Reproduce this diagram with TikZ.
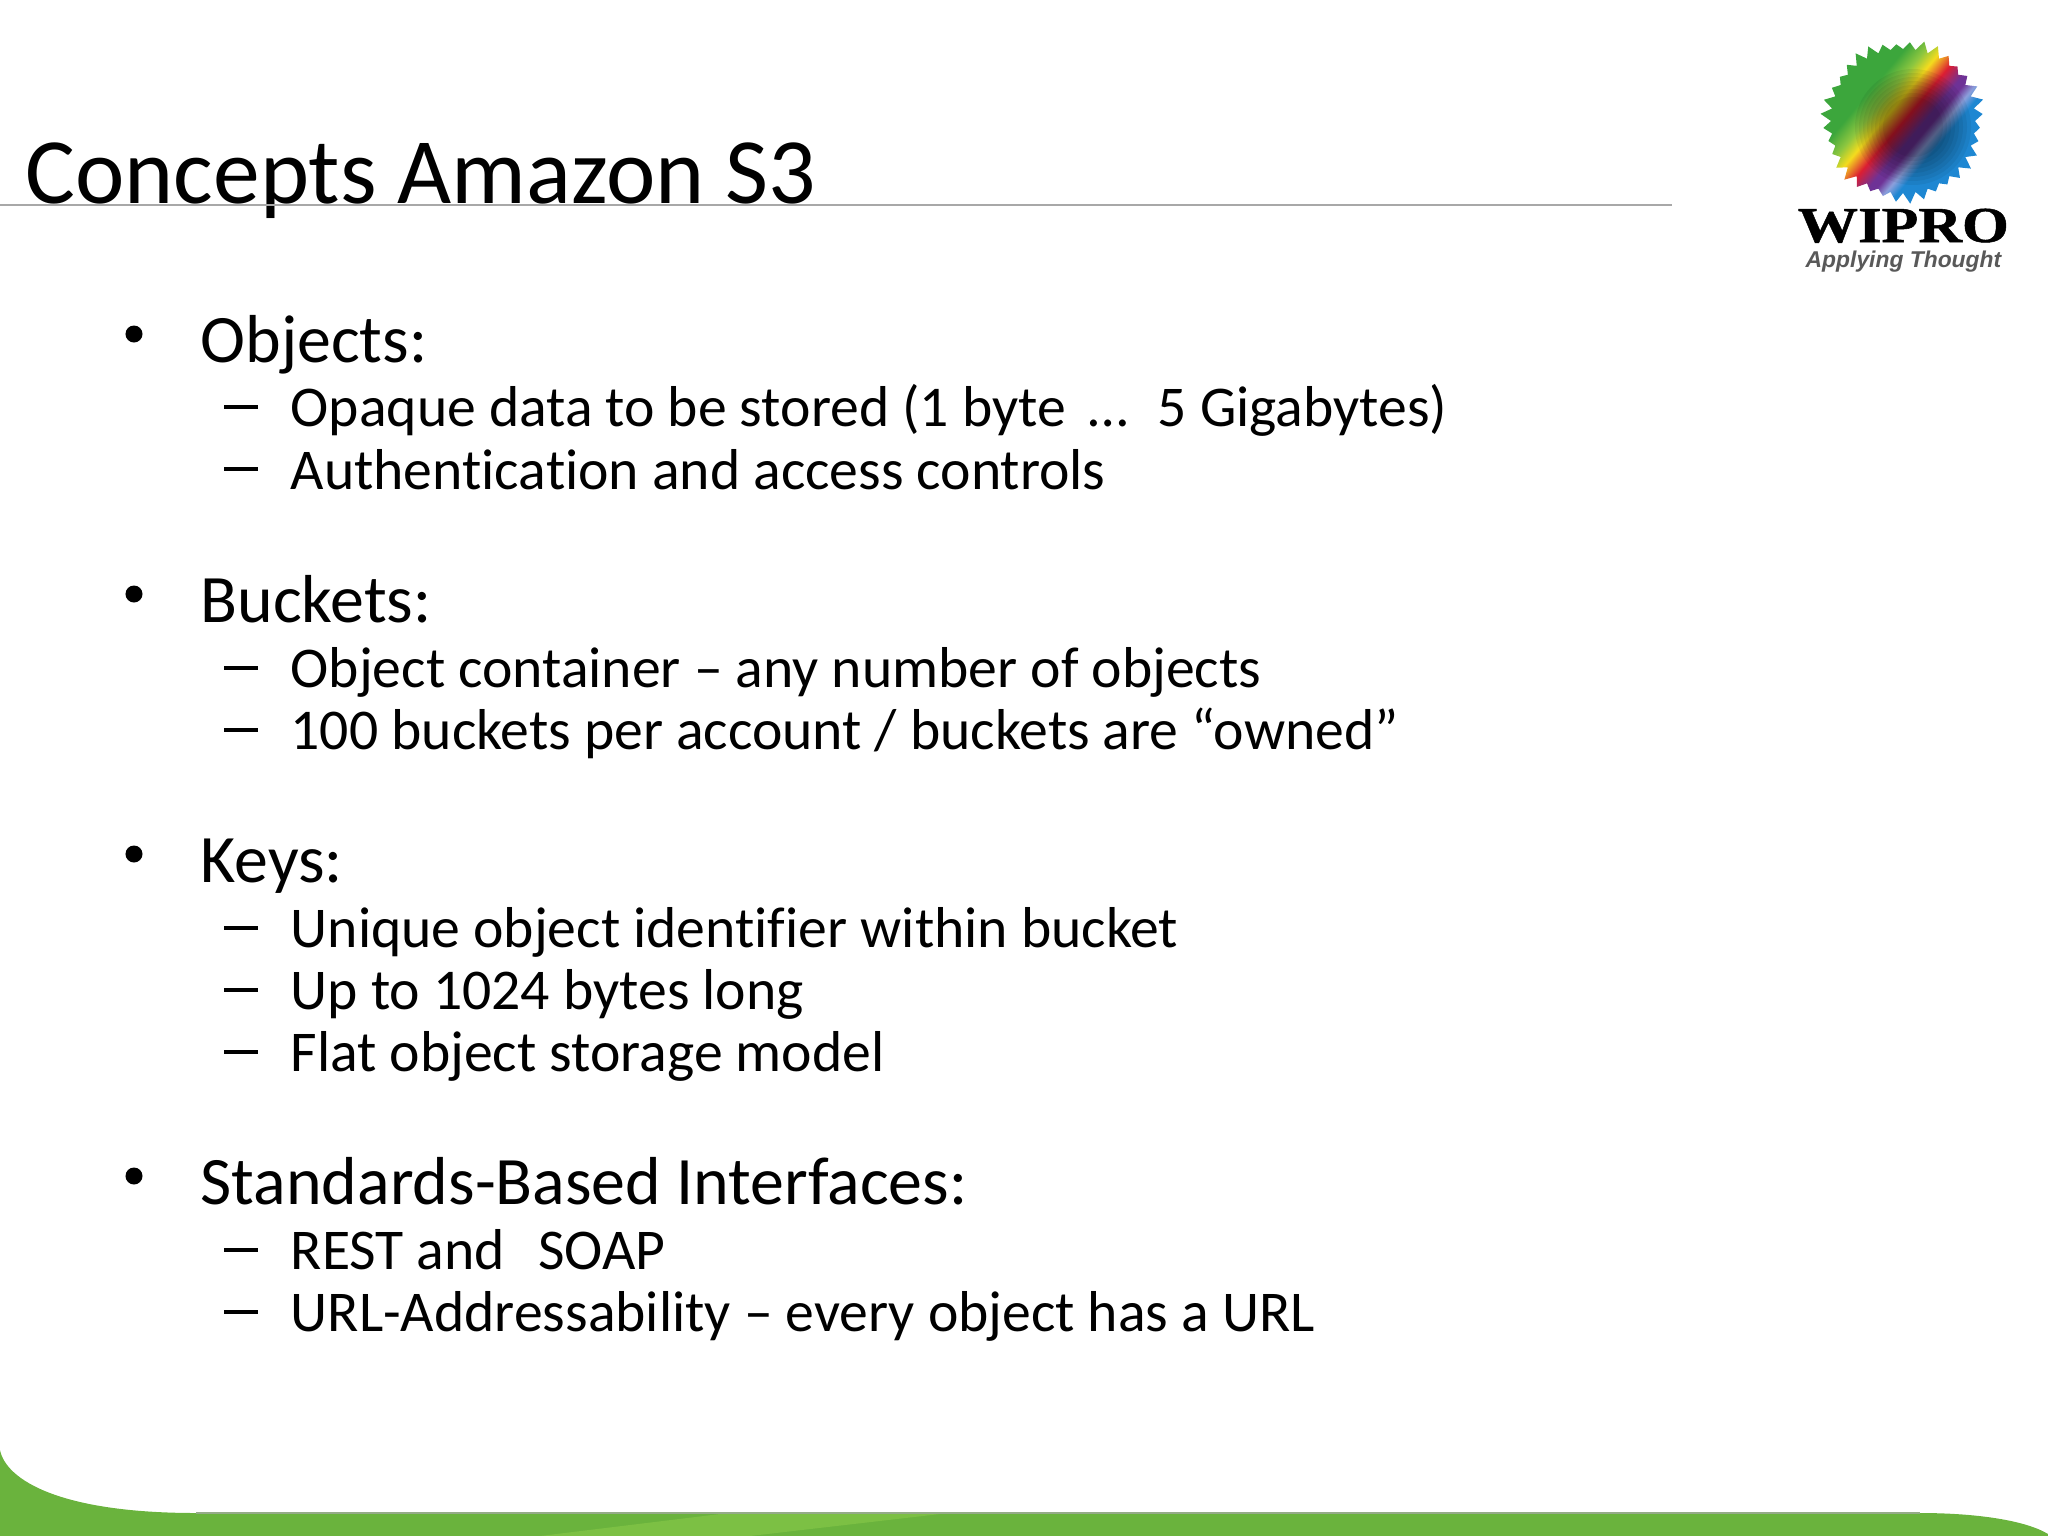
\documentclass[tikz,border=0pt]{standalone}
\usepackage{fontspec}
\setmainfont[Ligatures=NoCommon]{Carlito}
\newfontfamily\logofont[FakeStretch=1.2,BoldFeatures={FakeBold=1}]{Liberation Serif}
\newfontfamily\tagfont{Liberation Sans}
\definecolor{leafgreen}{HTML}{6AB33D}
\definecolor{leaflight}{HTML}{7CC044}
\definecolor{rulegray}{HTML}{A8A8A8}
\definecolor{sungreen}{HTML}{3CA63C}
\definecolor{sunlime}{HTML}{8CC63F}
\definecolor{sunyellow}{HTML}{F4DC1E}
\definecolor{sunred}{HTML}{DC1E32}
\definecolor{sunviolet}{HTML}{6E3296}
\definecolor{sunpale}{HTML}{8CA0DC}
\definecolor{sunblue}{HTML}{1E87D2}
\pgfdeclarehorizontalshading{sunbands}{100bp}{color(0bp)=(sungreen);color(36bp)=(sungreen);color(41bp)=(sunlime);color(45bp)=(sunyellow);color(50bp)=(sunred);color(55bp)=(sunviolet);color(57bp)=(sunviolet);color(60bp)=(sunpale);color(63bp)=(sunblue);color(100bp)=(sunblue)}
\tikzset{
  titletext/.style={anchor=base west,inner sep=0pt,font=\fontsize{26.6}{26.6}\selectfont},
  headtext/.style={anchor=base west,inner sep=0pt,font=\fontsize{19.3}{19.3}\selectfont},
  subtext/.style={anchor=base west,inner sep=0pt,font=\fontsize{16.4}{16.4}\selectfont},
  dashmark/.style={rectangle,fill=black,inner sep=0pt,minimum width=0.33cm,minimum height=0.04cm},
  dotmark/.style={circle,fill=black,inner sep=0pt,minimum size=0.17cm},
}
\begin{document}
\begin{tikzpicture}[x=0.01cm,y=0.01cm]
\useasboundingbox (0,0) rectangle (2048,-1536);
% green band
\fill [leafgreen] (0,-1450) .. controls (6,-1480) and (60,-1513) .. (196,-1513) -- (1920,-1513) .. controls (1975,-1513) and (2025,-1520) .. (2048,-1534) -- (2048,-1536) -- (0,-1536) -- cycle;
\fill [leaflight] (540,-1536) -- (720,-1514) -- (940,-1514) -- (750,-1536) -- cycle;
\draw [rulegray!70!leafgreen,line width=0.6pt] (196,-1513) -- (1920,-1513);
% title
\node [titletext] (title) at (25,-203) {Concepts Amazon S3};
\coordinate (ruleL) at (0,-205);
\coordinate (ruleR) at (1672,-205);
\draw [rulegray,line width=0.6pt] (ruleL) -- (ruleR);
% objects
\node [dotmark] (b1) at (134,-334) {};
\node [headtext] (h1) at (200,-362) {Objects:};
\node [dashmark] (d11) at (241,-407) {};
\node [subtext] (s11) at (290,-426) {Opaque data to be stored (1 byte\hspace{2.6pt} …\hspace{4.8pt} 5 Gigabytes)};
\node [dashmark] (d12) at (241,-469) {};
\node [subtext] (s12) at (290,-489) {Authentication and access controls};
% buckets
\node [dotmark] (b2) at (134,-594) {};
\node [headtext] (h2) at (200,-622) {Buckets:};
\node [dashmark] (d21) at (241,-668) {};
\node [subtext] (s21) at (290,-687) {Object container – any number of objects};
\node [dashmark] (d22) at (241,-730) {};
\node [subtext] (s22) at (290,-749) {100 buckets per account / buckets are “owned”};
% keys
\node [dotmark] (b3) at (134,-854) {};
\node [headtext] (h3) at (200,-882) {Keys:};
\node [dashmark] (d31) at (241,-928) {};
\node [subtext] (s31) at (290,-947) {Unique object identifier within bucket};
\node [dashmark] (d32) at (241,-990) {};
\node [subtext] (s32) at (290,-1009) {Up to 1024 bytes long};
\node [dashmark] (d33) at (241,-1052) {};
\node [subtext] (s33) at (290,-1071) {Flat object storage model};
% interfaces
\node [dotmark] (b4) at (134,-1176) {};
\node [headtext] (h4) at (200,-1204) {Standards-Based Interfaces:};
\node [dashmark] (d41) at (241,-1250) {};
\node [subtext] (s41) at (290,-1269) {REST and\ \ \hspace{2pt}SOAP};
\node [dashmark] (d42) at (241,-1312) {};
\node [subtext] (s42) at (290,-1331) {URL-Addressability – every object has a URL};
% logo
\begin{scope}[shift={(1903,-121)}]
\shade [shading=sunbands,shading angle=-40] (0:72) \foreach \a [evaluate=\a as \r using {80+3*sin(7*\a)}] in {0,10,...,350} { -- (\a:72) -- (\a+5:\r) } -- cycle;
\foreach \q in {58,54,50,46,42,38,34,30} {
  \fill [black,opacity=0.06] (10,-6) circle (\q);
}
\end{scope}
\node [inner sep=0pt,anchor=base west,font=\logofont\bfseries\fontsize{14.3}{14.3}\selectfont] (wipro) at (1797,-242) {WIPRO};
\node [inner sep=0pt,anchor=base west,text=black!65,font=\tagfont\bfseries\itshape\fontsize{6.5}{6.5}\selectfont] (tag) at (1805,-267) {Applying Thought};
\end{tikzpicture}
\end{document}
